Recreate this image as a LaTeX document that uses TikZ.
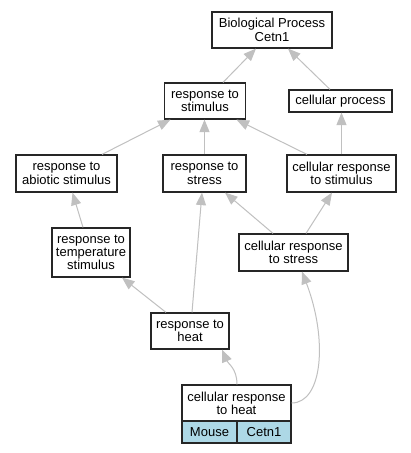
\documentclass[tikz,border=0pt]{standalone}
\usepackage{fontspec}
\setmainfont{Liberation Sans}
\usetikzlibrary{arrows.meta}
\definecolor{edgegray}{HTML}{C0C0C0}
\definecolor{cellblue}{HTML}{ADD8E6}
\begin{document}
\begin{tikzpicture}[x=1pt,y=-1pt,
  box/.style={draw=black!85, line width=1.2pt, fill=white, inner xsep=3pt, inner ysep=2pt, align=center,
    font=\fontsize{13}{13.3}\selectfont},
  cell/.style={draw=black!85, line width=1.2pt, fill=cellblue, inner sep=0pt, align=center,
    minimum height=22pt, font=\fontsize{13}{13.3}\selectfont},
  edge/.style={draw=edgegray, line width=1pt, -{Triangle[length=12.5pt,width=10pt]}}]
\useasboundingbox (0,0) rectangle (411,453);
\fill[white] (0,0) rectangle (411,453);
% nodes
\node[box, minimum width=120pt, minimum height=36pt] (bp) at (272,30) {Biological Process\\Cetn1};
\node[box, minimum width=81pt, minimum height=36pt] (rs) at (205,101) {response to\\stimulus};
\node[box, minimum width=103pt, minimum height=22pt] (cp) at (340.5,101) {cellular process};
\node[box, minimum width=101pt, minimum height=37pt] (ras) at (66.5,173.5) {response to\\abiotic stimulus};
\node[box, minimum width=83pt, minimum height=37pt] (rstress) at (204.5,173.5) {response to\\stress};
\node[box, minimum width=109pt, minimum height=37pt] (crs) at (341.5,173.5) {cellular response\\to stimulus};
\node[box, minimum width=78pt, minimum height=49pt] (rts) at (91,252.5) {response to\\temperature\\stimulus};
\node[box, minimum width=109pt, minimum height=37pt] (crstress) at (293.5,252.5) {cellular response\\to stress};
\node[box, minimum width=78pt, minimum height=36pt] (rh) at (190,331) {response to\\heat};
\node[box, minimum width=109pt, minimum height=36pt] (crh) at (236.5,403) {cellular response\\to heat};
\node[cell, minimum width=55pt] (mouse) at (209.5,432) {Mouse};
\node[cell, minimum width=54pt] (cetn) at (264,432) {Cetn1};
% edges
\draw[edge] ([xshift=18pt]rs.north) -- ([xshift=-16pt]bp.south);
\draw[edge] ([xshift=-10.5pt]cp.north) -- ([xshift=16pt]bp.south);
\draw[edge] ([xshift=35.5pt]ras.north) -- ([xshift=-34.5pt]rs.south);
\draw[edge] (rstress.north) -- (rstress.north |- rs.south);
\draw[edge] ([xshift=-34.5pt]crs.north) -- ([xshift=31.5pt]rs.south);
\draw[edge] (crs.north) -- (crs.north |- cp.south);
\draw[edge] ([xshift=-8pt]rts.north) -- ([xshift=6pt]ras.south);
\draw[edge] ([xshift=-20.5pt]crstress.north) -- ([xshift=20.5pt]rstress.south);
\draw[edge] ([xshift=12.5pt]crstress.north) -- ([xshift=-9.5pt]crs.south);
\draw[edge] ([xshift=-24pt]rh.north) -- ([xshift=31pt]rts.south);
\draw[edge] ([xshift=2pt]rh.north) -- ([xshift=-2.5pt]rstress.south);
\draw[edge] ([xshift=0.5pt]crh.north) .. controls +(0,-16) and +(6,14) .. ([xshift=32pt]rh.south);
\draw[edge] (crh.east) .. controls +(31,0) and +(26,68) .. ([xshift=8.5pt]crstress.south);
\end{tikzpicture}
\end{document}
